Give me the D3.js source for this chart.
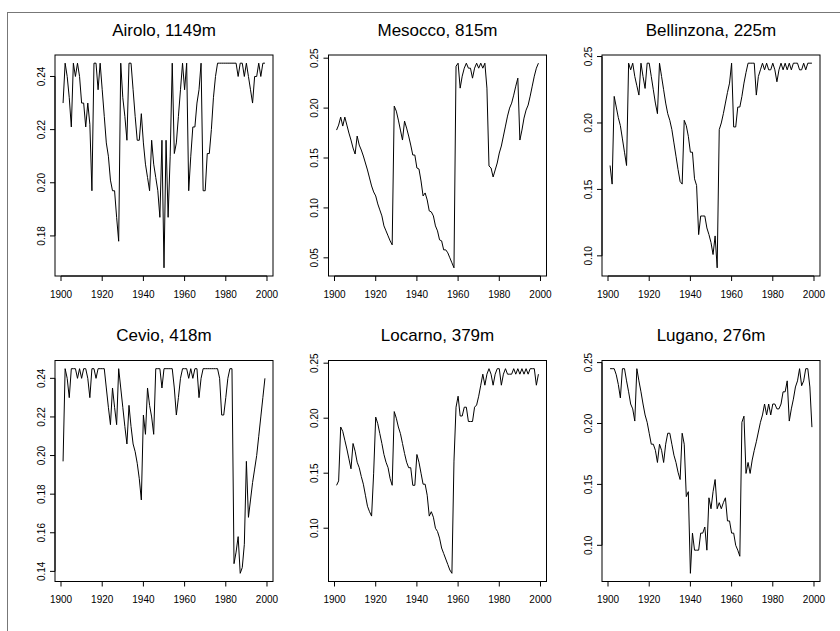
<!DOCTYPE html>
<html>
<head>
<meta charset="utf-8">
<script src="https://d3js.org/d3.v7.min.js"></script>
<style>
  body { margin: 0; background: #fff; }
  svg { font-family: "Liberation Sans", Arial, sans-serif; }
</style>
</head>
<body>
<div id="chart"></div>
<script>
// - - Data - -
const years = d3.range(1901, 2000);
const stations = ["Airolo, 1149m", "Mesocco, 815m", "Bellinzona, 225m",
                  "Cevio, 418m", "Locarno, 379m", "Lugano, 276m"];

const airolo = [
  0.230, 0.245, 0.240, 0.232, 0.221, 0.245, 0.240, 0.245, 0.240, 0.230,
  0.230, 0.221, 0.230, 0.222, 0.197, 0.245, 0.245, 0.235, 0.245, 0.235,
  0.225, 0.215, 0.210, 0.201, 0.197, 0.197, 0.187, 0.178, 0.245, 0.232,
  0.225, 0.216, 0.245, 0.245, 0.235, 0.225, 0.216, 0.216, 0.226, 0.215,
  0.207, 0.202, 0.197, 0.216, 0.207, 0.202, 0.197, 0.187, 0.216, 0.168,
  0.216, 0.187, 0.210, 0.245, 0.211, 0.215, 0.225, 0.235, 0.245, 0.235,
  0.245, 0.197, 0.210, 0.221, 0.221, 0.230, 0.235, 0.245, 0.197, 0.197,
  0.211, 0.211, 0.220, 0.232, 0.240, 0.245, 0.245, 0.245, 0.245, 0.245,
  0.245, 0.245, 0.245, 0.245, 0.245, 0.240, 0.245, 0.245, 0.240, 0.245,
  0.240, 0.235, 0.230, 0.240, 0.240, 0.245, 0.240, 0.245, 0.245
];

const mesocco = [
  0.178, 0.183, 0.191, 0.182, 0.191, 0.183, 0.175, 0.168, 0.160, 0.154,
  0.172, 0.163, 0.158, 0.152, 0.145, 0.138, 0.130, 0.122, 0.116, 0.112,
  0.104, 0.098, 0.092, 0.082, 0.077, 0.072, 0.067, 0.063, 0.202, 0.197,
  0.188, 0.178, 0.168, 0.187, 0.180, 0.172, 0.163, 0.153, 0.153, 0.140,
  0.139, 0.127, 0.112, 0.115, 0.108, 0.097, 0.096, 0.092, 0.082, 0.077,
  0.068, 0.067, 0.058, 0.058, 0.055, 0.050, 0.045, 0.040, 0.242, 0.245,
  0.220, 0.232, 0.240, 0.245, 0.240, 0.240, 0.230, 0.240, 0.245, 0.240,
  0.245, 0.240, 0.245, 0.220, 0.142, 0.140, 0.131, 0.138, 0.145, 0.155,
  0.162, 0.172, 0.182, 0.192, 0.200, 0.205, 0.213, 0.222, 0.230, 0.168,
  0.178, 0.190, 0.198, 0.203, 0.212, 0.222, 0.232, 0.240, 0.245
];

const bellinzona = [
  0.168, 0.154, 0.220, 0.212, 0.204, 0.198, 0.188, 0.178, 0.168, 0.245,
  0.240, 0.245, 0.235, 0.228, 0.221, 0.245, 0.235, 0.226, 0.245, 0.245,
  0.235, 0.225, 0.215, 0.207, 0.245, 0.235, 0.225, 0.215, 0.207, 0.202,
  0.195, 0.185, 0.175, 0.165, 0.156, 0.154, 0.202, 0.198, 0.190, 0.178,
  0.178, 0.158, 0.153, 0.116, 0.130, 0.130, 0.130, 0.121, 0.116, 0.110,
  0.101, 0.115, 0.091, 0.195, 0.200, 0.207, 0.215, 0.223, 0.230, 0.245,
  0.197, 0.197, 0.212, 0.212, 0.220, 0.230, 0.238, 0.245, 0.245, 0.245,
  0.245, 0.221, 0.235, 0.240, 0.245, 0.240, 0.245, 0.240, 0.240, 0.245,
  0.240, 0.231, 0.240, 0.245, 0.240, 0.245, 0.240, 0.245, 0.240, 0.245,
  0.245, 0.245, 0.240, 0.240, 0.245, 0.240, 0.245, 0.245, 0.245
];

const cevio = [
  0.197, 0.245, 0.240, 0.230, 0.245, 0.245, 0.245, 0.240, 0.245, 0.240,
  0.245, 0.245, 0.240, 0.230, 0.245, 0.245, 0.240, 0.245, 0.245, 0.245,
  0.245, 0.235, 0.225, 0.216, 0.235, 0.225, 0.216, 0.245, 0.235, 0.225,
  0.215, 0.206, 0.226, 0.215, 0.206, 0.202, 0.196, 0.188, 0.177, 0.221,
  0.211, 0.235, 0.226, 0.220, 0.211, 0.245, 0.245, 0.245, 0.235, 0.245,
  0.245, 0.245, 0.245, 0.245, 0.235, 0.221, 0.230, 0.240, 0.245, 0.245,
  0.245, 0.240, 0.245, 0.240, 0.245, 0.245, 0.230, 0.240, 0.245, 0.245,
  0.245, 0.245, 0.245, 0.245, 0.245, 0.245, 0.240, 0.221, 0.221, 0.230,
  0.240, 0.245, 0.245, 0.144, 0.150, 0.158, 0.139, 0.142, 0.154, 0.197,
  0.168, 0.177, 0.186, 0.193, 0.200, 0.210, 0.220, 0.230, 0.240
];

const locarno = [
  0.139, 0.143, 0.192, 0.188, 0.180, 0.172, 0.163, 0.154, 0.177, 0.170,
  0.160, 0.155, 0.147, 0.140, 0.130, 0.120, 0.115, 0.111, 0.150, 0.201,
  0.195, 0.186, 0.177, 0.167, 0.160, 0.155, 0.145, 0.139, 0.206, 0.200,
  0.192, 0.186, 0.177, 0.168, 0.160, 0.155, 0.155, 0.139, 0.139, 0.167,
  0.160, 0.150, 0.140, 0.140, 0.130, 0.111, 0.115, 0.110, 0.100, 0.097,
  0.091, 0.082, 0.077, 0.072, 0.067, 0.062, 0.059, 0.161, 0.210, 0.220,
  0.202, 0.202, 0.210, 0.210, 0.197, 0.197, 0.197, 0.210, 0.212, 0.220,
  0.230, 0.240, 0.230, 0.240, 0.245, 0.240, 0.230, 0.240, 0.245, 0.245,
  0.230, 0.240, 0.245, 0.240, 0.240, 0.240, 0.245, 0.240, 0.245, 0.240,
  0.245, 0.240, 0.245, 0.240, 0.245, 0.245, 0.245, 0.230, 0.240
];

const lugano = [
  0.245, 0.245, 0.245, 0.240, 0.232, 0.221, 0.245, 0.245, 0.235, 0.226,
  0.216, 0.212, 0.202, 0.245, 0.235, 0.226, 0.216, 0.207, 0.201, 0.192,
  0.183, 0.183, 0.178, 0.168, 0.183, 0.178, 0.168, 0.183, 0.192, 0.192,
  0.183, 0.174, 0.168, 0.160, 0.154, 0.192, 0.183, 0.140, 0.144, 0.077,
  0.110, 0.096, 0.096, 0.096, 0.110, 0.110, 0.115, 0.096, 0.139, 0.130,
  0.144, 0.154, 0.130, 0.135, 0.130, 0.135, 0.139, 0.120, 0.120, 0.110,
  0.110, 0.100, 0.096, 0.091, 0.201, 0.206, 0.159, 0.168, 0.159, 0.170,
  0.178, 0.185, 0.193, 0.201, 0.207, 0.216, 0.207, 0.216, 0.207, 0.216,
  0.216, 0.212, 0.212, 0.216, 0.226, 0.226, 0.235, 0.202, 0.212, 0.220,
  0.230, 0.235, 0.245, 0.231, 0.235, 0.245, 0.245, 0.230, 0.197
];

const series = [airolo, mesocco, bellinzona, cevio, locarno, lugano];

// tick labels per panel
const xTicks = [1900, 1920, 1940, 1960, 1980, 2000];
const yTicks = [
  [0.18, 0.20, 0.22, 0.24],
  [0.05, 0.10, 0.15, 0.20, 0.25],
  [0.10, 0.15, 0.20, 0.25],
  [0.14, 0.16, 0.18, 0.20, 0.22, 0.24],
  [0.10, 0.15, 0.20, 0.25],
  [0.10, 0.15, 0.20, 0.25]
];

// - - Sizing - -
const W = 840, H = 631;
const colLeft = [55, 328.5, 602];
const rowTop = [55, 360.5];
const PW = 218, PH = 221;

// R style: pad data range by 4% each side
function padded(ext) {
  const r = ext[1] - ext[0];
  return [ext[0] - 0.04 * r, ext[1] + 0.04 * r];
}

const svg = d3.select("#chart").append("svg")
  .attr("width", W)
  .attr("height", H);

svg.append("rect")
  .attr("width", W).attr("height", H)
  .attr("fill", "#fff");

// outer frame (figure border)
svg.append("rect")
  .attr("x", 7.5).attr("y", 12.5)
  .attr("width", 1000).attr("height", 1000)
  .attr("fill", "none")
  .attr("stroke", "#777")
  .attr("stroke-width", 1);

series.forEach((vals, i) => {
  const g = svg.append("g")
    .attr("transform", `translate(${colLeft[i % 3]}, ${rowTop[Math.floor(i / 3)]})`);

  const x = d3.scaleLinear()
    .domain(padded(d3.extent(years)))
    .range([0, PW]);
  const y = d3.scaleLinear()
    .domain(padded(d3.extent(vals)))
    .range([PH, 0]);

  // x axis
  const xa = g.append("g").attr("transform", `translate(0, ${PH})`);
  xa.append("line")
    .attr("x1", x(xTicks[0])).attr("x2", x(xTicks[xTicks.length - 1]))
    .attr("stroke", "#000");
  xa.selectAll("line.tick")
    .data(xTicks).enter().append("line")
      .attr("class", "tick")
      .attr("x1", d => x(d)).attr("x2", d => x(d))
      .attr("y1", 0).attr("y2", 5)
      .attr("stroke", "#000");
  xa.selectAll("text")
    .data(xTicks).enter().append("text")
      .attr("x", d => x(d))
      .attr("y", 21.5)
      .attr("text-anchor", "middle")
      .attr("font-size", 10)
      .text(d => d);

  // y axis
  const yt = yTicks[i];
  const ya = g.append("g");
  ya.append("line")
    .attr("y1", y(yt[0])).attr("y2", y(yt[yt.length - 1]))
    .attr("stroke", "#000");
  ya.selectAll("line.tick")
    .data(yt).enter().append("line")
      .attr("class", "tick")
      .attr("y1", d => y(d)).attr("y2", d => y(d))
      .attr("x1", 0).attr("x2", -5)
      .attr("stroke", "#000");
  ya.selectAll("text")
    .data(yt).enter().append("text")
      .attr("transform", d => `translate(-10.5, ${y(d)}) rotate(-90)`)
      .attr("text-anchor", "middle")
      .attr("font-size", 10)
      .text(d => d3.format(".2f")(d));

  // series line
  const line = d3.line()
    .x((d, j) => x(years[j]))
    .y(d => y(d));

  g.append("path")
    .datum(vals)
    .attr("d", line)
    .attr("fill", "none")
    .attr("stroke", "#000")
    .attr("stroke-width", 1);

  // box
  g.append("rect")
    .attr("width", PW).attr("height", PH)
    .attr("fill", "none")
    .attr("stroke", "#000")
    .attr("stroke-width", 1);

  // title
  g.append("text")
    .attr("x", PW / 2)
    .attr("y", -19.5)
    .attr("text-anchor", "middle")
    .attr("font-size", 17)
    .text(stations[i]);
});
</script>
</body>
</html>
